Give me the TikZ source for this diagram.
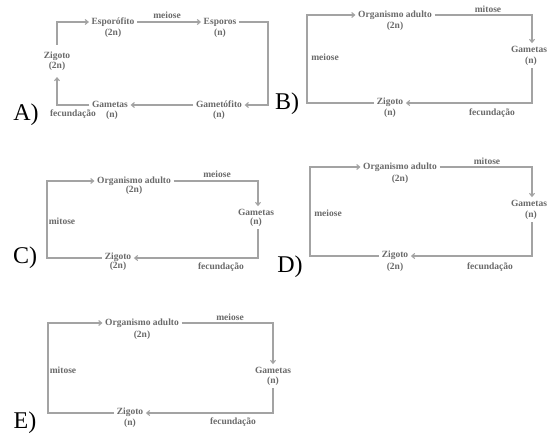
\documentclass[tikz,border=0pt]{standalone}
\usepackage{fontspec}
\setmainfont{Liberation Serif}
\usetikzlibrary{arrows.meta}
\definecolor{txtg}{HTML}{6A6A6A}
\definecolor{lng}{HTML}{A3A3A3}
\tikzset{
  t/.style={font=\fontsize{9.5}{10}\selectfont\bfseries, text=txtg, inner sep=2.5pt},
  ln/.style={draw=lng, line width=1.1pt},
  arr/.style={ln, -{Straight Barb[length=3pt,width=5pt]}},
  letter/.style={font=\fontsize{24}{26}\selectfont, text=black, inner sep=0pt}
}
\begin{document}
\begin{tikzpicture}[x=1pt,y=-1pt]
\clip (0,0) rectangle (548,437);
\fill[white] (0,0) rectangle (548,437);

% ---------------- A ----------------
\node[letter] (la) at (26,115) {A)};
\node[t] (aZ) at (57,56) {Zigoto};
\node[t] (aZp) at (57,66) {(2n)};
\node[t] (aEf) at (113,22) {Esporófito};
\node[t] (aEfp) at (113,33) {(2n)};
\node[t] (aEs) at (220,22) {Esporos};
\node[t] (aEsp) at (220,33) {(n)};
\node[t] (aGf) at (219,104) {Gametófito};
\node[t] (aGfp) at (219,115) {(n)};
\node[t] (aGa) at (110,104) {Gametas};
\node[t] (aGap) at (112,115) {(n)};
\node[t] (aFec) at (73,114) {fecundação};
\node[t] (aMei) at (167,15) {meiose};
\coordinate (aTL) at (57,22);
\coordinate (aTR) at (268,22);
\coordinate (aBR) at (268,105);
\coordinate (aBL) at (57,105);
\draw[arr, shorten <=4pt] (aZ.north) -- (aTL) -- (aEf.west);
\draw[arr] (aEf.east) -- (aEs.west);
\draw[arr] (aEs.east) -- (aTR) -- (aBR) -- (aGf.east |- aBR);
\draw[arr] (aGf.west |- aBR) -- (aGa.east |- aBR);
\draw[arr, shorten >=4pt] (aGa.west |- aBL) -- (aBL) -- (aZp.south);

% ---------------- B ----------------
\node[letter] (lb) at (287,104) {B)};
\node[t] (bO) at (395,15) {Organismo adulto};
\node[t] (bOp) at (395,26) {(2n)};
\node[t] (bG) at (529,49) {Gametas};
\node[t] (bGp) at (531,61) {(n)};
\node[t] (bZ) at (390,102) {Zigoto};
\node[t] (bZp) at (390,113) {(n)};
\node[t] (bMit) at (488,9) {mitose};
\node[t] (bMei) at (325,57) {meiose};
\node[t] (bFec) at (492,113) {fecundação};
\coordinate (bTL) at (307,15);
\coordinate (bTR) at (532,15);
\coordinate (bBR) at (532,103);
\coordinate (bBL) at (307,103);
\draw[arr] (bO.east) -- (bTR) -- (bTR |- bG.north);
\draw[arr] (bTR |- bGp.south) -- (bBR) -- (bZ.east |- bBR);
\draw[arr] (bZ.west |- bBL) -- (bBL) -- (bTL) -- (bO.west);

% ---------------- C ----------------
\node[letter] (lc) at (25,258) {C)};
\node[t] (cO) at (134,181) {Organismo adulto};
\node[t] (cOp) at (134,190) {(2n)};
\node[t] (cG) at (256,212) {Gametas};
\node[t] (cGp) at (256,222) {(n)};
\node[t] (cZ) at (118,257) {Zigoto};
\node[t] (cZp) at (118,266) {(2n)};
\node[t] (cMei) at (217,174) {meiose};
\node[t] (cMit) at (62,221) {mitose};
\node[t] (cFec) at (221,267) {fecundação};
\coordinate (cTL) at (47,181);
\coordinate (cTR) at (258,181);
\coordinate (cBR) at (258,258);
\coordinate (cBL) at (47,258);
\draw[arr] (cO.east) -- (cTR) -- (cTR |- cG.north);
\draw[arr] (cTR |- cGp.south) -- (cBR) -- (cZ.east |- cBR);
\draw[arr] (cZ.west |- cBL) -- (cBL) -- (cTL) -- (cO.west);

% ---------------- D ----------------
\node[letter] (ld) at (290,267) {D)};
\node[t] (dO) at (400,167) {Organismo adulto};
\node[t] (dOp) at (400,179) {(2n)};
\node[t] (dG) at (529,203) {Gametas};
\node[t] (dGp) at (531,215) {(n)};
\node[t] (dZ) at (395,255) {Zigoto};
\node[t] (dZp) at (395,267) {(2n)};
\node[t] (dMit) at (487,161) {mitose};
\node[t] (dMei) at (328,213) {meiose};
\node[t] (dFec) at (490,267) {fecundação};
\coordinate (dTL) at (310,167);
\coordinate (dTR) at (532,167);
\coordinate (dBR) at (532,256);
\coordinate (dBL) at (310,256);
\draw[arr] (dO.east) -- (dTR) -- (dTR |- dG.north);
\draw[arr] (dTR |- dGp.south) -- (dBR) -- (dZ.east |- dBR);
\draw[arr] (dZ.west |- dBL) -- (dBL) -- (dTL) -- (dO.west);

% ---------------- E ----------------
\node[letter] (le) at (25,423) {E)};
\node[t] (eO) at (142,323) {Organismo adulto};
\node[t] (eOp) at (142,335) {(2n)};
\node[t] (eG) at (273,370) {Gametas};
\node[t] (eGp) at (273,381) {(n)};
\node[t] (eZ) at (130,412) {Zigoto};
\node[t] (eZp) at (130,423) {(n)};
\node[t] (eMei) at (230,317) {meiose};
\node[t] (eMit) at (63,370) {mitose};
\node[t] (eFec) at (233,422) {fecundação};
\coordinate (eTL) at (48,323);
\coordinate (eTR) at (273,323);
\coordinate (eBR) at (273,413);
\coordinate (eBL) at (48,413);
\draw[arr] (eO.east) -- (eTR) -- (eG.north);
\draw[arr] (eGp.south) -- (eBR) -- (eZ.east |- eBR);
\draw[arr] (eZ.west |- eBL) -- (eBL) -- (eTL) -- (eO.west);
\end{tikzpicture}
\end{document}
